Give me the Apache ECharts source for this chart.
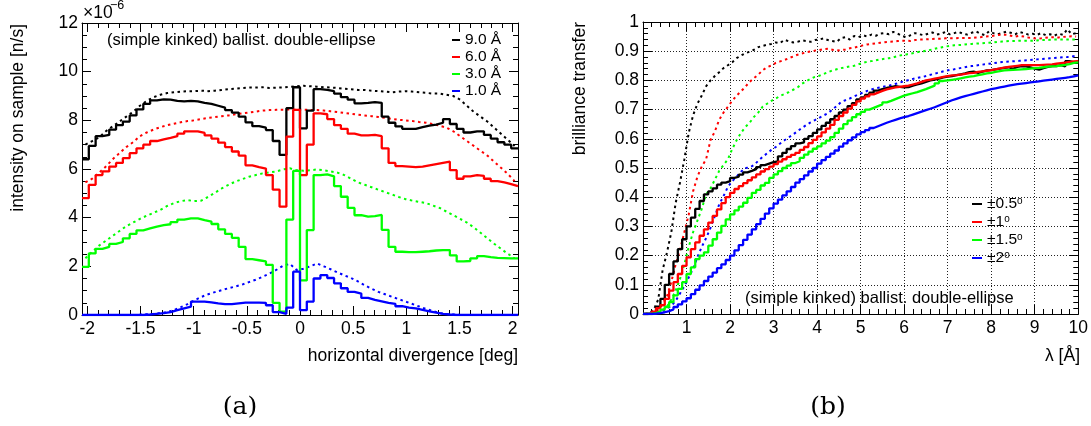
<!DOCTYPE html>
<html><head><meta charset="utf-8">
<script src="https://cdn.jsdelivr.net/npm/echarts@6/dist/echarts.min.js"></script>
<style>html,body{margin:0;padding:0;background:#fff}#c{width:1091px;height:426px}</style>
</head><body><div id="c"></div><script>
// ---------- panel (a): intensity vs horizontal divergence (64 bins over [-2.05, 2.05]) ----------
const divRange = [-2.05, 2.05];
const divMajor = [-2, -1.5, -1, -0.5, 0, 0.5, 1, 1.5, 2];
const intMax = 12;
const legendA = ['9.0 Å', '6.0 Å', '3.0 Å', '1.0 Å'];
const a9 = [6.4, 6.95, 7.35, 7.4, 7.62, 7.8, 7.95, 8.2, 8.45, 8.68,
  8.82, 8.86, 8.85, 8.8, 8.78, 8.8, 8.78, 8.72, 8.68, 8.6,
  8.52, 8.42, 8.32, 8.15, 7.92, 7.76, 7.7, 7.6, 7.15, 6.58,
  8.5, 9.36, 7.67, 8.4, 9.28, 9.25, 9.2, 9.1, 8.95, 8.85,
  8.7, 8.72, 8.75, 8.72, 8.15, 7.9, 7.75, 7.65, 7.65, 7.72,
  7.78, 7.82, 7.9, 8.05, 7.85, 7.65, 7.5, 7.55, 7.55, 7.4,
  7.25, 7.1, 7.0, 6.85];
const a6 = [4.8, 5.35, 5.75, 5.9, 6.1, 6.25, 6.45, 6.65, 6.85, 7.0,
  7.15, 7.22, 7.28, 7.35, 7.45, 7.55, 7.55, 7.48, 7.38, 7.25,
  7.08, 6.9, 6.72, 6.55, 6.15, 6.08, 6.02, 5.75, 5.15, 4.45,
  7.33, 8.43, 5.75, 7.0, 8.29, 8.25, 8.05, 7.8, 7.65, 7.45,
  7.38, 7.38, 7.4, 7.35, 6.85, 6.25, 6.12, 6.1, 6.08, 6.1,
  6.15, 6.2, 6.25, 6.3, 5.95, 5.6, 5.7, 5.75, 5.72, 5.6,
  5.5, 5.45, 5.38, 5.3];
const a3 = [1.98, 2.53, 2.72, 2.8, 2.92, 3.0, 3.15, 3.33, 3.48, 3.56,
  3.63, 3.69, 3.73, 3.82, 3.92, 3.97, 3.97, 3.9, 3.84, 3.74,
  3.52, 3.33, 3.17, 2.8, 2.3, 2.25, 2.2, 2.06, 0.5, 0.14,
  3.92, 5.92, 1.42, 3.49, 5.75, 5.78, 5.7, 5.3, 4.86, 4.4,
  4.1, 4.04, 4.06, 4.11, 3.5, 2.8, 2.6, 2.58, 2.58, 2.6,
  2.62, 2.65, 2.67, 2.67, 2.45, 2.2, 2.22, 2.33, 2.42, 2.38,
  2.35, 2.34, 2.33, 2.33];
const a1 = [0, 0, 0, 0, 0, 0, 0, 0, 0, 0.02,
  0.05, 0.08, 0.12, 0.2, 0.27, 0.34, 0.55, 0.55, 0.52, 0.48,
  0.45, 0.45, 0.48, 0.51, 0.51, 0.51, 0.5, 0.4, 0.12, 0.05,
  0.3, 1.78, 0.2, 0.55, 1.5, 1.64, 1.52, 1.3, 1.1, 0.95,
  0.88, 0.7, 0.62, 0.56, 0.5, 0.46, 0.36, 0.3, 0.27, 0.21,
  0.15, 0.1, 0.05, 0.02, 0, 0, 0, 0, 0, 0,
  0, 0, 0, 0];
const a9d = [7.0, 7.15, 7.3, 7.55, 7.75, 7.95, 8.15, 8.35, 8.6, 8.8,
  8.95, 9.05, 9.12, 9.15, 9.18, 9.2, 9.2, 9.22, 9.2, 9.22,
  9.25, 9.28, 9.3, 9.33, 9.35, 9.35, 9.36, 9.33, 9.34, 9.35,
  9.38, 9.4, 9.42, 9.4, 9.38, 9.36, 9.35, 9.33, 9.3, 9.28,
  9.25, 9.25, 9.22, 9.2, 9.18, 9.15, 9.18, 9.2, 9.18, 9.15,
  9.13, 9.1, 9.1, 9.05, 9.0, 8.85, 8.6, 8.35, 8.15, 7.95,
  7.7, 7.45, 7.2, 6.95];
const a6d = [5.45, 5.6, 5.85, 6.1, 6.4, 6.65, 6.9, 7.1, 7.35, 7.5,
  7.62, 7.72, 7.8, 7.86, 7.92, 7.97, 8.0, 8.05, 8.1, 8.13,
  8.17, 8.2, 8.25, 8.28, 8.32, 8.36, 8.4, 8.42, 8.43, 8.44,
  8.45, 8.45, 8.44, 8.43, 8.42, 8.4, 8.37, 8.34, 8.3, 8.27,
  8.23, 8.2, 8.17, 8.14, 8.1, 8.06, 8.02, 8.0, 7.97, 7.93,
  7.9, 7.85, 7.78, 7.7, 7.55, 7.35, 7.15, 6.95, 6.75, 6.55,
  6.3, 6.05, 5.8, 5.5];
const a3d = [2.33, 2.6, 2.85, 3.05, 3.25, 3.45, 3.65, 3.8, 3.95, 4.08,
  4.2, 4.32, 4.48, 4.6, 4.68, 4.72, 4.68, 4.7, 4.85, 5.02,
  5.2, 5.35, 5.48, 5.58, 5.68, 5.75, 5.82, 5.86, 5.9, 5.98,
  6.03, 5.95, 5.93, 5.95, 5.98, 5.95, 5.9, 5.85, 5.75, 5.6,
  5.45, 5.35, 5.25, 5.15, 5.05, 4.95, 4.85, 4.76, 4.7, 4.65,
  4.6, 4.5, 4.4, 4.25, 4.1, 3.95, 3.8, 3.6, 3.38, 3.15,
  2.93, 2.72, 2.52, 2.33];
const a1d = [0, 0, 0, 0, 0, 0, 0, 0, 0.01, 0.03,
  0.05, 0.08, 0.12, 0.2, 0.32, 0.45, 0.6, 0.74, 0.85, 0.94,
  1.02, 1.1, 1.17, 1.25, 1.35, 1.45, 1.57, 1.7, 1.85, 2.02,
  2.1, 1.85, 1.9, 2.0, 2.12, 2.0, 1.88, 1.75, 1.63, 1.52,
  1.38, 1.22, 1.08, 0.95, 0.85, 0.75, 0.65, 0.55, 0.45, 0.35,
  0.25, 0.16, 0.08, 0.04, 0.02, 0, 0, 0, 0, 0,
  0, 0, 0, 0];

// ---------- panel (b): brilliance transfer vs wavelength (100 bins over [0, 10]) ----------
const lamRange = [0, 10];
const legendB = ['±0.5°', '±1°', '±1.5°', '±2°'];
const b05 = [0, 0.002, 0.007, 0.025, 0.052, 0.1, 0.137, 0.18, 0.222, 0.256,
  0.3, 0.33, 0.36, 0.387, 0.41, 0.42, 0.43, 0.443, 0.45, 0.455,
  0.466, 0.47, 0.477, 0.485, 0.49, 0.496, 0.503, 0.51, 0.515, 0.52,
  0.523, 0.54, 0.552, 0.565, 0.575, 0.584, 0.588, 0.6, 0.609, 0.62,
  0.632, 0.644, 0.655, 0.667, 0.678, 0.69, 0.7, 0.712, 0.722, 0.735,
  0.742, 0.75, 0.758, 0.765, 0.77, 0.774, 0.777, 0.78, 0.778, 0.776,
  0.777, 0.782, 0.786, 0.79, 0.795, 0.8, 0.803, 0.806, 0.81, 0.813,
  0.815, 0.818, 0.821, 0.824, 0.828, 0.83, 0.826, 0.83, 0.834, 0.835,
  0.838, 0.84, 0.843, 0.845, 0.84, 0.846, 0.849, 0.848, 0.845, 0.84,
  0.837, 0.842, 0.846, 0.849, 0.849, 0.852, 0.848, 0.866, 0.862, 0.864];
const b1 = [0, 0.001, 0.008, 0.02, 0.03, 0.052, 0.08, 0.109, 0.137, 0.165,
  0.194, 0.222, 0.245, 0.268, 0.29, 0.313, 0.336, 0.358, 0.38, 0.4,
  0.415, 0.428, 0.438, 0.448, 0.458, 0.468, 0.478, 0.488, 0.496, 0.505,
  0.513, 0.522, 0.53, 0.538, 0.545, 0.552, 0.562, 0.572, 0.585, 0.596,
  0.608, 0.622, 0.635, 0.648, 0.665, 0.678, 0.69, 0.703, 0.716, 0.728,
  0.738, 0.745, 0.752, 0.758, 0.764, 0.769, 0.773, 0.776, 0.778, 0.78,
  0.782, 0.786, 0.79, 0.795, 0.8, 0.803, 0.806, 0.809, 0.812, 0.815,
  0.817, 0.818, 0.82, 0.822, 0.825, 0.826, 0.829, 0.831, 0.833, 0.835,
  0.838, 0.841, 0.844, 0.846, 0.848, 0.85, 0.852, 0.852, 0.852, 0.852,
  0.852, 0.853, 0.854, 0.855, 0.857, 0.859, 0.861, 0.863, 0.865, 0.866];
const b15 = [0, 0, 0.003, 0.008, 0.015, 0.024, 0.041, 0.064, 0.086, 0.109,
  0.137, 0.16, 0.188, 0.2, 0.211, 0.234, 0.256, 0.279, 0.302, 0.324,
  0.341, 0.355, 0.368, 0.381, 0.398, 0.415, 0.425, 0.44, 0.449, 0.466,
  0.478, 0.489, 0.5, 0.508, 0.517, 0.523, 0.535, 0.546, 0.556, 0.566,
  0.574, 0.584, 0.594, 0.606, 0.62, 0.635, 0.65, 0.662, 0.674, 0.684,
  0.692, 0.7, 0.706, 0.712, 0.718, 0.725, 0.73, 0.736, 0.742, 0.748,
  0.752, 0.756, 0.76, 0.765, 0.77, 0.776, 0.782, 0.79, 0.798, 0.8,
  0.802, 0.804, 0.807, 0.81, 0.813, 0.815, 0.818, 0.821, 0.824, 0.826,
  0.829, 0.832, 0.834, 0.835, 0.836, 0.837, 0.838, 0.839, 0.84, 0.842,
  0.843, 0.845, 0.847, 0.848, 0.849, 0.851, 0.853, 0.856, 0.86, 0.862];
const b2 = [0, 0, 0.001, 0.003, 0.006, 0.01, 0.016, 0.024, 0.033, 0.043,
  0.054, 0.068, 0.083, 0.098, 0.113, 0.128, 0.142, 0.157, 0.17, 0.185,
  0.2, 0.218, 0.236, 0.254, 0.272, 0.29, 0.308, 0.326, 0.344, 0.362,
  0.378, 0.392, 0.406, 0.42, 0.435, 0.45, 0.462, 0.475, 0.488, 0.5,
  0.515, 0.527, 0.538, 0.549, 0.56, 0.573, 0.584, 0.595, 0.605, 0.615,
  0.623, 0.63, 0.637, 0.643, 0.649, 0.655, 0.66, 0.665, 0.67, 0.674,
  0.678, 0.683, 0.688, 0.693, 0.698, 0.703, 0.708, 0.714, 0.72, 0.726,
  0.732, 0.737, 0.742, 0.746, 0.75, 0.754, 0.758, 0.762, 0.766, 0.77,
  0.773, 0.776, 0.779, 0.782, 0.785, 0.787, 0.789, 0.791, 0.793, 0.795,
  0.797, 0.799, 0.801, 0.803, 0.805, 0.807, 0.809, 0.811, 0.814, 0.817];
const b05d = [0, 0.003, 0.015, 0.05, 0.15, 0.21, 0.28, 0.38, 0.45, 0.53,
  0.62, 0.68, 0.72, 0.748, 0.78, 0.8, 0.815, 0.828, 0.842, 0.852,
  0.862, 0.876, 0.885, 0.893, 0.898, 0.905, 0.914, 0.918, 0.922, 0.925,
  0.93, 0.928, 0.939, 0.934, 0.93, 0.932, 0.937, 0.935, 0.932, 0.938,
  0.94, 0.944, 0.938, 0.935, 0.932, 0.945, 0.948, 0.94, 0.952, 0.948,
  0.955, 0.95, 0.957, 0.953, 0.96, 0.962, 0.958, 0.966, 0.96, 0.952,
  0.948, 0.955, 0.962, 0.958, 0.955, 0.96, 0.964, 0.957, 0.96, 0.966,
  0.958, 0.962, 0.966, 0.96, 0.957, 0.963, 0.968, 0.96, 0.955, 0.968,
  0.962, 0.958, 0.962, 0.967, 0.963, 0.958, 0.966, 0.962, 0.957, 0.96,
  0.956, 0.962, 0.955, 0.958, 0.953, 0.96, 0.956, 0.975, 0.958, 0.962];
const b1d = [0, 0.001, 0.005, 0.015, 0.035, 0.06, 0.11, 0.17, 0.22, 0.28,
  0.34, 0.42, 0.47, 0.505, 0.53, 0.595, 0.625, 0.665, 0.69, 0.71,
  0.73, 0.748, 0.762, 0.778, 0.795, 0.808, 0.82, 0.835, 0.845, 0.851,
  0.86, 0.865, 0.87, 0.876, 0.882, 0.888, 0.892, 0.896, 0.899, 0.902,
  0.904, 0.907, 0.908, 0.905, 0.902, 0.904, 0.906, 0.91, 0.912, 0.916,
  0.92, 0.923, 0.925, 0.927, 0.929, 0.931, 0.932, 0.933, 0.935, 0.936,
  0.936, 0.935, 0.938, 0.94, 0.94, 0.941, 0.942, 0.943, 0.943, 0.944,
  0.944, 0.944, 0.945, 0.945, 0.945, 0.945, 0.947, 0.948, 0.95, 0.951,
  0.953, 0.955, 0.957, 0.956, 0.953, 0.95, 0.953, 0.95, 0.947, 0.945,
  0.943, 0.944, 0.946, 0.948, 0.948, 0.947, 0.949, 0.95, 0.951, 0.95];
const b15d = [0, 0, 0.002, 0.006, 0.012, 0.025, 0.05, 0.08, 0.12, 0.17,
  0.23, 0.28, 0.32, 0.36, 0.41, 0.43, 0.46, 0.49, 0.51, 0.53,
  0.565, 0.595, 0.62, 0.64, 0.655, 0.675, 0.69, 0.71, 0.72, 0.73,
  0.738, 0.747, 0.753, 0.76, 0.768, 0.776, 0.788, 0.797, 0.805, 0.812,
  0.816, 0.822, 0.828, 0.834, 0.838, 0.842, 0.845, 0.848, 0.85, 0.855,
  0.86, 0.864, 0.866, 0.869, 0.872, 0.874, 0.876, 0.879, 0.883, 0.887,
  0.889, 0.892, 0.895, 0.898, 0.9, 0.903, 0.906, 0.91, 0.913, 0.916,
  0.918, 0.92, 0.921, 0.922, 0.924, 0.925, 0.926, 0.927, 0.928, 0.929,
  0.93, 0.932, 0.933, 0.934, 0.935, 0.935, 0.936, 0.936, 0.936, 0.936,
  0.937, 0.938, 0.938, 0.939, 0.94, 0.94, 0.94, 0.94, 0.94, 0.94];
const b2d = [0, 0, 0.002, 0.005, 0.01, 0.018, 0.028, 0.045, 0.07, 0.095,
  0.125, 0.155, 0.195, 0.23, 0.26, 0.295, 0.335, 0.375, 0.404, 0.435,
  0.455, 0.47, 0.487, 0.5, 0.502, 0.51, 0.525, 0.538, 0.55, 0.562,
  0.572, 0.584, 0.595, 0.605, 0.615, 0.626, 0.637, 0.647, 0.656, 0.664,
  0.672, 0.68, 0.688, 0.7, 0.712, 0.726, 0.732, 0.738, 0.745, 0.752,
  0.758, 0.764, 0.769, 0.773, 0.776, 0.779, 0.782, 0.786, 0.79, 0.795,
  0.799, 0.803, 0.807, 0.81, 0.813, 0.817, 0.821, 0.825, 0.829, 0.833,
  0.836, 0.838, 0.841, 0.844, 0.847, 0.849, 0.851, 0.853, 0.855, 0.857,
  0.859, 0.861, 0.863, 0.864, 0.865, 0.866, 0.867, 0.868, 0.869, 0.871,
  0.872, 0.873, 0.874, 0.876, 0.877, 0.878, 0.879, 0.88, 0.882, 0.884];

// ---------- helpers ----------
function histStep(vals, range) {           // bin edges -> step line
  const w = (range[1] - range[0]) / vals.length;
  const d = vals.map((v, i) => [range[0] + i * w, v]);
  d.push([range[1], vals[vals.length - 1]]);
  return d;
}
function histCenters(vals, range) {        // bin centres -> polyline
  const w = (range[1] - range[0]) / vals.length;
  return vals.map((v, i) => [range[0] + (i + 0.5) * w, v]);
}
const FONT = 'Liberation Sans, Arial, Helvetica, sans-serif';
const COLORS = ['#000000', '#ff0000', '#00ff00', '#0000ff'];
const divMinor = [];
for (let t = -20; t <= 20; t++) divMinor.push(t / 10);

const line1 = {show: true, onZero: false, lineStyle: {color: '#000', width: 1}};
const noLine = {show: false, onZero: false};
const lbl = {fontSize: 17.5, fontFamily: FONT, color: '#000', margin: 5};

function xA(grid, pos, extra) {
  return Object.assign({type: 'value', gridIndex: grid, position: pos, splitLine: {show: false}}, extra);
}

const xAxis = [
  xA(0, 'bottom', {min: divRange[0], max: divRange[1], axisLine: line1,
    axisTick: {show: true, inside: true, length: 9, customValues: divMajor, lineStyle: {color: '#000'}},
    axisLabel: Object.assign({customValues: divMajor, formatter: v => String(v)}, lbl)}),
  xA(0, 'bottom', {min: divRange[0], max: divRange[1], axisLine: noLine,
    axisTick: {show: true, inside: true, length: 5, customValues: divMinor, lineStyle: {color: '#000'}},
    axisLabel: {show: false}}),
  xA(0, 'top', {min: divRange[0], max: divRange[1], axisLine: line1,
    axisTick: {show: true, inside: true, length: 9, customValues: divMajor, lineStyle: {color: '#000'}},
    axisLabel: {show: false}}),
  xA(0, 'top', {min: divRange[0], max: divRange[1], axisLine: noLine,
    axisTick: {show: true, inside: true, length: 5, customValues: divMinor, lineStyle: {color: '#000'}},
    axisLabel: {show: false}}),
  xA(1, 'bottom', {min: lamRange[0], max: lamRange[1], interval: 1, axisLine: line1,
    axisTick: {show: true, inside: true, length: 9, lineStyle: {color: '#000'}},
    minorTick: {show: true, splitNumber: 5, length: 5, lineStyle: {color: '#000'}},
    splitLine: {show: true, lineStyle: {color: '#222', width: 1, type: [1, 2]}},
    axisLabel: Object.assign({showMinLabel: false}, lbl)}),
  xA(1, 'top', {min: lamRange[0], max: lamRange[1], interval: 1, axisLine: line1,
    axisTick: {show: true, inside: true, length: 9, lineStyle: {color: '#000'}},
    minorTick: {show: true, splitNumber: 5, length: 5, lineStyle: {color: '#000'}},
    axisLabel: {show: false}})
];
const yAxis = [
  {type: 'value', gridIndex: 0, position: 'left', min: 0, max: intMax, interval: 2, axisLine: line1,
    axisTick: {show: true, inside: true, length: 9, lineStyle: {color: '#000'}},
    minorTick: {show: true, splitNumber: 4, length: 5, lineStyle: {color: '#000'}},
    splitLine: {show: false}, axisLabel: Object.assign({}, lbl, {margin: 4})},
  {type: 'value', gridIndex: 0, position: 'right', min: 0, max: intMax, interval: 2, axisLine: line1,
    axisTick: {show: true, inside: true, length: 9, lineStyle: {color: '#000'}},
    minorTick: {show: true, splitNumber: 4, length: 5, lineStyle: {color: '#000'}},
    splitLine: {show: false}, axisLabel: {show: false}},
  {type: 'value', gridIndex: 1, position: 'left', min: 0, max: 1, interval: 0.1, axisLine: line1,
    axisTick: {show: true, inside: true, length: 9, lineStyle: {color: '#000'}},
    minorTick: {show: true, splitNumber: 5, length: 5, lineStyle: {color: '#000'}},
    splitLine: {show: true, lineStyle: {color: '#222', width: 1, type: [1, 2]}},
    axisLabel: Object.assign({}, lbl, {margin: 4})},
  {type: 'value', gridIndex: 1, position: 'right', min: 0, max: 1, interval: 0.1, axisLine: line1,
    axisTick: {show: true, inside: true, length: 9, lineStyle: {color: '#000'}},
    minorTick: {show: true, splitNumber: 5, length: 5, lineStyle: {color: '#000'}},
    splitLine: {show: false}, axisLabel: {show: false}}
];

const series = [];
const setA = [a9, a6, a3, a1], setAd = [a9d, a6d, a3d, a1d];
const setB = [b05, b1, b15, b2], setBd = [b05d, b1d, b15d, b2d];
function dotted(name, data, color, xi, yi) {
  return {name: name, type: 'line', xAxisIndex: xi, yAxisIndex: yi, data: data, symbol: 'none',
    lineStyle: {color: color, width: 2, type: [2.5, 3.5]}, itemStyle: {color: color}, z: 3, silent: true};
}
function solid(name, data, color, xi, yi) {
  return {name: name, type: 'line', step: 'end', xAxisIndex: xi, yAxisIndex: yi, data: data, symbol: 'none',
    lineStyle: {color: color, width: 2.3}, itemStyle: {color: color}, z: 4, silent: true};
}
for (let i = 0; i < 4; i++) series.push(dotted(legendA[i] + ' (dotted)', histCenters(setAd[i], divRange), COLORS[i], 0, 0));
for (let i = 0; i < 4; i++) series.push(solid(legendA[i], histStep(setA[i], divRange), COLORS[i], 0, 0));
for (let i = 0; i < 4; i++) series.push(dotted(legendB[i] + ' (dotted)', histCenters(setBd[i], lamRange), COLORS[i], 4, 2));
for (let i = 0; i < 4; i++) series.push(solid(legendB[i], histStep(setB[i], lamRange), COLORS[i], 4, 2));

function txt(x, y, text, size, opts) {
  return Object.assign({type: 'text', x: x, y: y, silent: true,
    style: Object.assign({text: text, font: size + 'px ' + FONT, fill: '#000',
      align: 'left', verticalAlign: 'middle', textAlign: 'left', textVerticalAlign: 'middle'}, opts && opts.style)},
    opts && opts.el);
}
const graphic = [
  txt(83, 13, '×10', 17.5),
  txt(110, 6, '−6', 12.5),
  txt(107, 40, '(simple kinked) ballist. double-ellipse', 16.5),
  txt(745, 298, '(simple kinked) ballist. double-ellipse', 16.5),
  txt(18, 24, 'intensity on sample [n/s]', 17.5, {el: {rotation: Math.PI / 2},
    style: {align: 'right', textAlign: 'right'}}),
  txt(580, 22, 'brilliance transfer', 17.5, {el: {rotation: Math.PI / 2},
    style: {align: 'right', textAlign: 'right'}}),
  txt(518, 356, 'horizontal divergence [deg]', 17.5, {style: {align: 'right', textAlign: 'right'}}),
  txt(1080, 356, 'λ [Å]', 17.5, {style: {align: 'right', textAlign: 'right'}}),
  txt(240, 407, '(a)', 25, {style: {align: 'center', textAlign: 'center', font: '25px DejaVu Serif, serif'}}),
  txt(828, 407, '(b)', 25, {style: {align: 'center', textAlign: 'center', font: '25px DejaVu Serif, serif'}})
];

const chart = echarts.init(document.getElementById('c'), null, {renderer: 'canvas'});
chart.setOption({
  animation: false,
  backgroundColor: '#fff',
  grid: [
    {left: 82, top: 23, width: 436, height: 292, containLabel: false},
    {left: 643, top: 22, width: 437, height: 292, containLabel: false}
  ],
  xAxis: xAxis,
  yAxis: yAxis,
  legend: [
    {data: legendA, orient: 'vertical', left: 452, top: 32, padding: 0, itemGap: 1,
      icon: 'rect', itemWidth: 8, itemHeight: 2, selectedMode: false,
      textStyle: {fontSize: 15.5, fontFamily: FONT, color: '#000', lineHeight: 15}},
    {data: legendB, orient: 'vertical', left: 972, top: 196, padding: 0, itemGap: 2,
      icon: 'rect', itemWidth: 10, itemHeight: 2, selectedMode: false,
      formatter: n => '{a|' + n.replace('°', '') + '}{s|o}',
      textStyle: {fontSize: 15.5, fontFamily: FONT, color: '#000', lineHeight: 16,
        rich: {a: {fontSize: 15.5, fontFamily: FONT, color: '#000', lineHeight: 16},
               s: {fontSize: 10, fontFamily: FONT, color: '#000', lineHeight: 9, verticalAlign: 'top'}}}}
  ],
  graphic: graphic,
  series: series
});
</script></body></html>
